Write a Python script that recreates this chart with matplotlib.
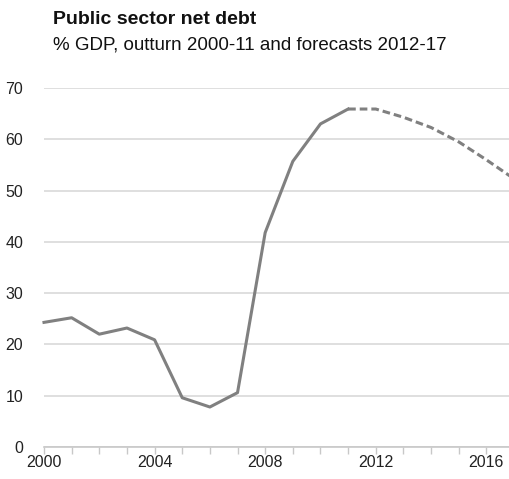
import matplotlib
matplotlib.use("Agg")
import matplotlib.pyplot as plt

plt.rcParams["font.family"] = ["Liberation Sans", "DejaVu Sans"]

# outturn 2000-11
years_out = [2000, 2001, 2002, 2003, 2004, 2005, 2006, 2007, 2008, 2009, 2010, 2011]
debt_out = [24.3, 25.2, 22.0, 23.2, 20.9, 9.6, 7.8, 10.6, 41.8, 55.7, 63.0, 65.9]
# forecasts 2012-17 (joined on to the last outturn year)
years_fc = [2011, 2012, 2013, 2014, 2015, 2016, 2017]
debt_fc = [65.9, 65.9, 64.3, 62.3, 59.5, 56.0, 52.3]

yticks = [0, 10, 20, 30, 40, 50, 60, 70]
xlabels = [2000, 2004, 2008, 2012, 2016]

W, H = 510, 479
fig = plt.figure(figsize=(W / 100, H / 100), dpi=100)
ax = fig.add_axes([44 / W, (H - 447) / H, (514 - 44) / W, (447 - 88) / H])

line_col = "#808080"
ax.plot(years_out, debt_out, color=line_col, lw=2.2, solid_joinstyle="round", clip_on=False)
ax.plot(years_fc, debt_fc, color=line_col, lw=2.2, ls=(0, (2.5, 1.3)), clip_on=False)

ax.set_xlim(2000, 2017)
ax.set_ylim(0, 70)
ax.set_yticks(yticks)
ax.set_xticks(range(2000, 2018))
ax.set_xticklabels([str(y) if y in xlabels else "" for y in range(2000, 2018)])
ax.grid(axis="y", color="#d9d9d9", lw=1.2)
ax.set_axisbelow(True)
for s in ("left", "right", "top"):
    ax.spines[s].set_visible(False)
ax.spines["bottom"].set_color("#c8c8c8")
ax.spines["bottom"].set_linewidth(1.2)
ax.tick_params(axis="x", direction="out", length=5, width=1.0, color="#c8c8c8",
               labelsize=11.5, pad=1, labelcolor="#222222")
ax.tick_params(axis="y", length=0, labelsize=11.5, pad=15, labelcolor="#222222")

fig.text(53 / W, 1 - 11 / H, "Public sector net debt", fontsize=14, fontweight="bold",
         va="top", ha="left", color="#111111")
fig.text(53 / W, 1 - 36 / H, "% GDP, outturn 2000-11 and forecasts 2012-17", fontsize=13.5,
         va="top", ha="left", color="#111111")

fig.savefig("out.png", dpi=100)
